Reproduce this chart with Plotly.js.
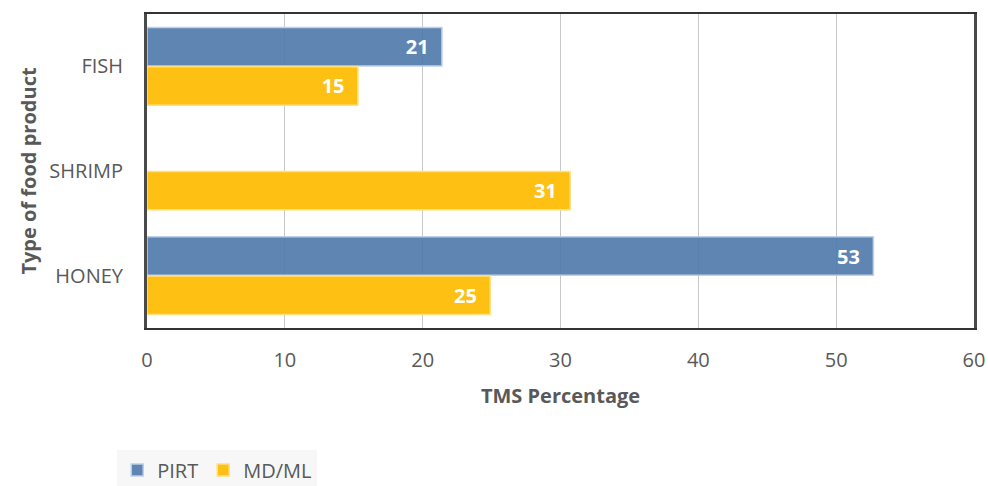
<!DOCTYPE html>
<html>
<head>
<meta charset="utf-8">
<script src="https://cdn.plot.ly/plotly-3.0.1.min.js"></script>
<style>html,body{margin:0;padding:0;background:#fff;}#chart{width:988px;height:486px;}</style>
</head>
<body>
<div id="chart"></div>
<script>
const categories = ['FISH', 'SHRIMP', 'HONEY'];
const pirtValues = [21.4, null, 52.7];
const mdmlValues = [15.3, 30.7, 24.9];
const seriesNames = ['PIRT', 'MD/ML'];
const xTicks = [0, 10, 20, 30, 40, 50, 60];

const fam = 'Open Sans, Liberation Sans, sans-serif';
const labelFont = {family: fam, size: 20, color: '#ffffff'};

const traces = [
  {
    type: 'bar', orientation: 'h', name: seriesNames[0],
    y: categories, x: pirtValues,
    marker: {color: 'rgba(78,120,170,0.9)', line: {color: 'rgba(190,208,232,1)', width: 1.5}},
    texttemplate: '<b>%{x:.0f}</b>\u00a0\u00a0', textposition: 'inside', insidetextanchor: 'end',
    textfont: labelFont, hoverinfo: 'x+y'
  },
  {
    type: 'bar', orientation: 'h', name: seriesNames[1],
    y: categories, x: mdmlValues,
    marker: {color: '#fdc013', line: {color: 'rgba(255,224,130,1)', width: 1.5}},
    texttemplate: '<b>%{x:.0f}</b>\u00a0\u00a0', textposition: 'inside', insidetextanchor: 'end',
    textfont: labelFont, hoverinfo: 'x+y'
  }
];

const layout = {
  width: 988, height: 486,
  margin: {l: 147, r: 14, t: 14, b: 158, autoexpand: false},
  paper_bgcolor: '#ffffff', plot_bgcolor: '#ffffff',
  barmode: 'group', bargap: 0.25, bargroupgap: 0.02,
  font: {family: fam, color: '#595959'},
  xaxis: {
    range: [0, 60], tickvals: xTicks, ticktext: xTicks.map(String),
    showgrid: true, gridcolor: '#c8c8c8', gridwidth: 1, zeroline: false,
    showline: true, linecolor: '#333333', linewidth: 2, mirror: true,
    ticks: 'outside', ticklen: 13, tickcolor: 'rgba(0,0,0,0)',
    tickfont: {size: 20, color: '#595959'},
    automargin: false,
    title: {text: '<b>TMS Percentage</b>', font: {size: 20, color: '#595959'}, standoff: 17}
  },
  yaxis: {
    autorange: 'reversed', type: 'category',
    showgrid: false, zeroline: false,
    showline: true, linecolor: '#4a4a4a', linewidth: 3, mirror: true,
    ticks: 'outside', ticklen: 17, tickcolor: 'rgba(0,0,0,0)',
    tickfont: {size: 20, color: '#595959'},
    automargin: false,
    title: {text: '<b>Type of food product</b>', font: {size: 20, color: '#595959'}, standoff: 8}
  },
  showlegend: true,
  legend: {
    orientation: 'h', x: -0.036, xanchor: 'left', y: -0.39, yanchor: 'top',
    bgcolor: '#f7f7f7', font: {size: 20, color: '#595959'},
    traceorder: 'normal', itemwidth: 30
  }
};

Plotly.newPlot('chart', traces, layout, {staticPlot: true, displayModeBar: false});
</script>
</body>
</html>
